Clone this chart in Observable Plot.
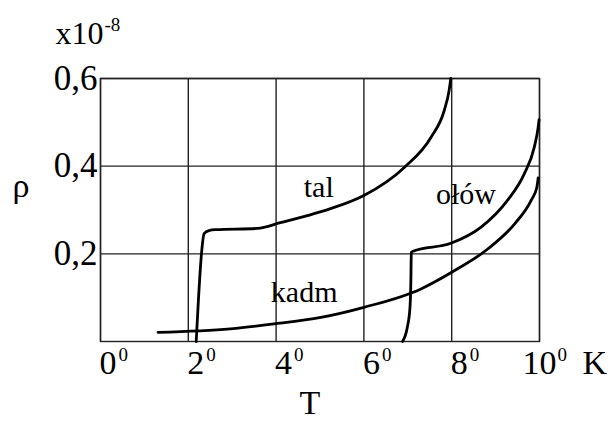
<!DOCTYPE html>
<html>
<head>
<meta charset="utf-8">
<script src="https://cdn.jsdelivr.net/npm/d3@7"></script>
<script src="https://cdn.jsdelivr.net/npm/@observablehq/plot@0.6"></script>
<style>
  html, body { margin: 0; padding: 0; background: #fff; }
</style>
</head>
<body>
<div id="chart"></div>
<script>
// Temperature axis (K) and resistivity axis (x10^-8)
const xTicks = [0, 2, 4, 6, 8, 10];
const xTickLabels = ["0", "2", "4", "6", "8", "10"];
const yTicks = [0.2, 0.4, 0.6];
const yTickLabels = ["0,2", "0,4", "0,6"];

// Thallium
const talT   = [2.18, 2.23, 2.30, 2.36, 2.47, 2.62, 3.57, 4.10, 4.71, 5.24, 6.00, 6.92, 7.53, 7.83, 7.94, 7.98];
const talRho = [0.000, 0.094, 0.200, 0.246, 0.253, 0.255, 0.258, 0.271, 0.287, 0.303, 0.333, 0.397, 0.466, 0.527, 0.572, 0.600];

// Cadmium
const kadmT   = [1.31, 2.96, 3.95, 5.02, 6.00, 7.30, 8.00, 8.82, 9.43, 9.81, 9.94, 9.97];
const kadmRho = [0.021, 0.029, 0.040, 0.055, 0.078, 0.120, 0.158, 0.211, 0.268, 0.322, 0.352, 0.373];

// Lead
const olowT   = [6.88, 6.99, 7.05, 7.07, 7.08, 7.12, 7.98, 8.67, 9.27, 9.65, 9.88, 9.97, 9.99];
const olowRho = [0.000, 0.033, 0.078, 0.139, 0.203, 0.206, 0.224, 0.261, 0.322, 0.382, 0.443, 0.489, 0.506];

// Curve names and where they are written
const curveNames = ["tal", "kadm", "ołów"];
const nameT = [4.63, 3.88, 7.64];
const nameRho = [0.329, 0.090, 0.314];

const ink = "#000";
const axisFont = 34;

const chart = Plot.plot({
  width: 611,
  height: 421,
  marginLeft: 100,
  marginRight: 72,
  marginTop: 78,
  marginBottom: 80,
  style: { fontFamily: "'Liberation Serif', 'Times New Roman', serif", background: "#fff", color: ink },
  x: { domain: [0, 10], axis: null },
  y: { domain: [0, 0.6], axis: null },
  marks: [
    Plot.gridX(xTicks, { stroke: "#222", strokeOpacity: 1, strokeWidth: 1.4 }),
    Plot.gridY(yTicks, { stroke: "#222", strokeOpacity: 1, strokeWidth: 1.4 }),
    Plot.frame({ stroke: "#222", strokeWidth: 1.4 }),

    // curves
    Plot.line(talT, { x: talT, y: talRho, curve: "monotone-x", stroke: ink, strokeWidth: 2.8 }),
    Plot.line(kadmT, { x: kadmT, y: kadmRho, curve: "monotone-x", stroke: ink, strokeWidth: 2.8 }),
    Plot.line(olowT, { x: olowT, y: olowRho, curve: "monotone-x", stroke: ink, strokeWidth: 2.8 }),

    // curve names
    Plot.text(curveNames, { x: nameT, y: nameRho, text: curveNames, textAnchor: "start", lineAnchor: "bottom", fontSize: 30, fill: ink }),

    // y tick labels
    Plot.text(yTickLabels, { y: yTicks, text: yTickLabels, frameAnchor: "left", textAnchor: "end", dx: -3, fontSize: 35, fill: ink }),

    // x tick labels with degree-style superscript zero
    Plot.text(xTicks, { x: xTicks, text: xTickLabels, filter: (d) => d < 10, frameAnchor: "bottom", textAnchor: "start", lineAnchor: "bottom", dx: -1, dy: 32, fontSize: axisFont, fill: ink }),
    Plot.text(xTicks, { x: xTicks, text: xTickLabels, filter: (d) => d === 10, frameAnchor: "bottom", textAnchor: "middle", lineAnchor: "bottom", dy: 32, fontSize: axisFont, fill: ink }),
    Plot.text(xTicks, { x: xTicks, text: () => "0", frameAnchor: "bottom", textAnchor: "start", lineAnchor: "bottom", dx: 18, dy: 19, fontSize: 19, fill: ink }),

    // axis titles and units
    Plot.text(["K"], { frameAnchor: "bottom-right", textAnchor: "start", lineAnchor: "bottom", dx: 43, dy: 32, fontSize: axisFont, fill: ink }),
    Plot.text(["T"], { frameAnchor: "bottom", textAnchor: "middle", lineAnchor: "bottom", dx: -10, dy: 72, fontSize: 34, fill: ink }),
    Plot.text(["ρ"], { frameAnchor: "top-left", textAnchor: "start", lineAnchor: "bottom", dx: -88, dy: 118, fontSize: 34, fill: ink }),
    Plot.text(["x10"], { frameAnchor: "top-left", textAnchor: "start", lineAnchor: "bottom", dx: -45, dy: -35, fontSize: 32, fill: ink }),
    Plot.text(["-8"], { frameAnchor: "top-left", textAnchor: "start", lineAnchor: "bottom", dx: 4, dy: -48, fontSize: 19, fill: ink })
  ]
});

document.getElementById("chart").append(chart);
</script>
</body>
</html>
